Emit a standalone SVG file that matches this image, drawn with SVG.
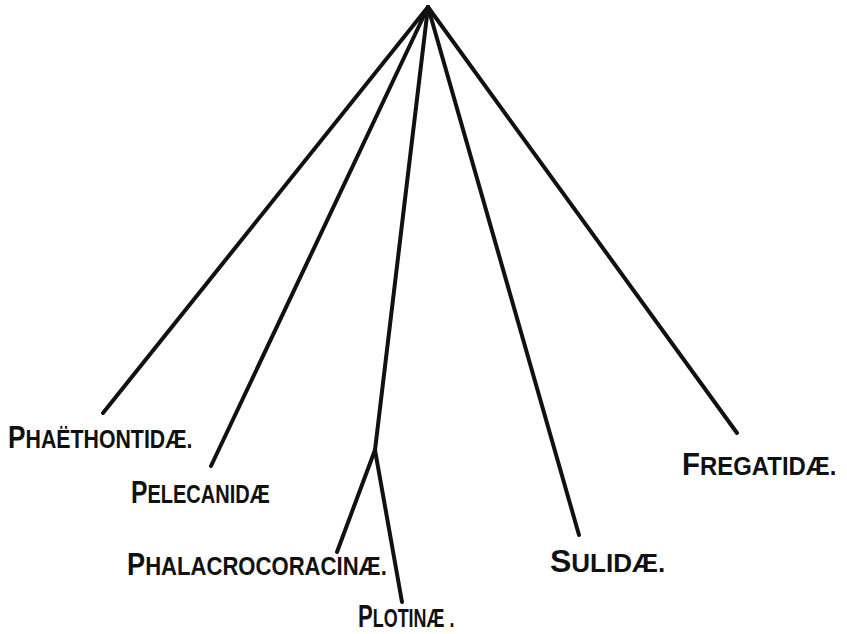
<svg xmlns="http://www.w3.org/2000/svg" width="847" height="634" viewBox="0 0 847 634">
<style>
.l{stroke:#111;stroke-width:4;stroke-linecap:round;fill:none}
.t{font-family:"Liberation Sans",Arial,sans-serif;font-weight:bold;font-size:26px;fill:#111}
.b{font-size:32px}
</style>
<rect width="847" height="634" fill="#fff"/>
<g id="connectors">
<line class="l" x1="428" y1="7" x2="103" y2="413"/>
<line class="l" x1="428" y1="7" x2="211" y2="466"/>
<polyline class="l" points="428,7 375,450 337,552"/>
<line class="l" x1="375" y1="450" x2="402" y2="602"/>
<line class="l" x1="428" y1="7" x2="579" y2="535"/>
<line class="l" x1="428" y1="7" x2="737" y2="433"/>
</g>
<g id="phaethontidae"><text class="t" transform="translate(8,448) scale(0.82,1)"><tspan class="b">P</tspan>HAËTHONTIDÆ.</text></g>
<g id="pelecanidae"><text class="t" transform="translate(131,503) scale(0.77,1)"><tspan class="b">P</tspan>ELECANIDÆ</text></g>
<g id="phalacrocoracinae"><text class="t" transform="translate(127,575) scale(0.85,1)"><tspan class="b">P</tspan>HALACROCORACINÆ.</text></g>
<g id="plotinae"><text class="t" transform="translate(358,627) scale(0.69,1)"><tspan class="b">P</tspan>LOTINÆ .</text></g>
<g id="sulidae"><text class="t" transform="translate(550,572) scale(1,1)"><tspan class="b">S</tspan>ULIDÆ.</text></g>
<g id="fregatidae"><text class="t" transform="translate(682,475) scale(0.92,1)"><tspan class="b">F</tspan>REGATIDÆ.</text></g>
</svg>
